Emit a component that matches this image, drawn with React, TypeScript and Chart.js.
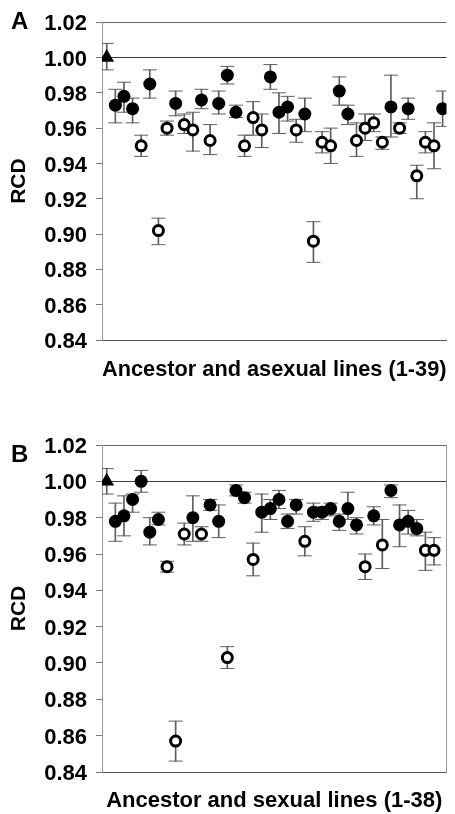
import { useEffect, useRef } from "react";
import { Chart, registerables } from "chart.js";

Chart.register(...registerables);

const FONT = "'Liberation Sans', Arial, Helvetica, sans-serif";

const Y_MIN = 0.84;
const Y_MAX = 1.02;
const Y_STEP = 0.02;
const X_MIN = -0.55;
const X_MAX = 39.45;

// Panel A: ancestor (index 0) and asexual lines 1-39
// kinds: a = ancestor, f = filled circle, o = open circle
const A_KINDS = [
  "a", "f", "f", "f", "o", "f", "o", "o", "f", "o",
  "o", "f", "o", "f", "f", "f", "o", "o", "o", "f",
  "f", "f", "o", "f", "o", "o", "o", "f", "f", "o",
  "o", "o", "o", "f", "o", "f", "o", "o", "o", "f",
];
const A_VALUES = [
  1.0, 0.973, 0.978, 0.971, 0.95, 0.985, 0.902, 0.96, 0.974, 0.962,
  0.959, 0.976, 0.953, 0.974, 0.99, 0.969, 0.95, 0.966, 0.959, 0.989,
  0.969, 0.972, 0.959, 0.968, 0.896, 0.952, 0.95, 0.981, 0.968, 0.953,
  0.96, 0.963, 0.952, 0.972, 0.96, 0.971, 0.933, 0.952, 0.95, 0.971,
];
const A_HIGH = [
  1.008, 0.982, 0.986, 0.977, 0.956, 0.993, 0.909, 0.964, 0.981, 0.968,
  0.969, 0.982, 0.962, 0.981, 0.995, 0.973, 0.956, 0.975, 0.968, 0.996,
  0.98, 0.978, 0.965, 0.977, 0.907, 0.958, 0.96, 0.989, 0.973, 0.963,
  0.968, 0.968, 0.955, 0.99, 0.963, 0.977, 0.939, 0.958, 0.963, 0.981,
];
const A_LOW = [
  0.993, 0.963, 0.969, 0.963, 0.944, 0.977, 0.894, 0.956, 0.967, 0.957,
  0.947, 0.971, 0.945, 0.968, 0.985, 0.966, 0.944, 0.956, 0.949, 0.982,
  0.957, 0.964, 0.952, 0.958, 0.884, 0.946, 0.94, 0.973, 0.962, 0.944,
  0.953, 0.958, 0.948, 0.955, 0.957, 0.965, 0.92, 0.946, 0.937, 0.961,
];

// Panel B: ancestor (index 0) and sexual lines 1-38
const B_KINDS = [
  "a", "f", "f", "f", "f", "f", "f", "o", "o", "o",
  "f", "o", "f", "f", "o", "f", "f", "o", "f", "f",
  "f", "f", "f", "o", "f", "f", "f", "f", "f", "f",
  "o", "f", "o", "f", "f", "f", "f", "o", "o",
];
const B_VALUES = [
  1.0, 0.978, 0.981, 0.99, 1.0, 0.972, 0.979, 0.953, 0.857, 0.971,
  0.98, 0.971, 0.987, 0.978, 0.903, 0.995, 0.991, 0.957, 0.983, 0.985,
  0.99, 0.978, 0.987, 0.967, 0.983, 0.983, 0.985, 0.978, 0.985, 0.976,
  0.953, 0.981, 0.965, 0.995, 0.976, 0.978, 0.974, 0.962, 0.962,
];
const B_HIGH = [
  1.007, 0.988, 0.992, 0.993, 1.006, 0.98, 0.983, 0.956, 0.868, 0.977,
  0.992, 0.975, 0.99, 0.987, 0.909, 0.998, 0.994, 0.966, 0.993, 0.99,
  0.995, 0.982, 0.99, 0.975, 0.988, 0.986, 0.988, 0.982, 0.994, 0.98,
  0.96, 0.986, 0.979, 0.998, 0.987, 0.984, 0.979, 0.972, 0.969,
];
const B_LOW = [
  0.993, 0.967, 0.97, 0.983, 0.994, 0.965, 0.976, 0.95, 0.846, 0.965,
  0.967, 0.967, 0.984, 0.969, 0.897, 0.992, 0.988, 0.948, 0.972, 0.979,
  0.985, 0.974, 0.982, 0.959, 0.978, 0.979, 0.981, 0.973, 0.979, 0.971,
  0.946, 0.976, 0.952, 0.991, 0.964, 0.971, 0.97, 0.951, 0.954,
];

const A_X_TITLE = "Ancestor and asexual lines (1-39)";
const B_X_TITLE = "Ancestor and sexual lines (1-38)";
const Y_TITLE = "RCD";

type PanelProps = {
  kinds: string[];
  values: number[];
  high: number[];
  low: number[];
  xTitle: string;
  top: number;
  padTop: number;
  padRight: number;
  xAxisHeight: number;
  xTitlePad: number;
  rightBorder: boolean;
};

const ERR = "#5f5f5f";

function Panel(p: PanelProps) {
  const ref = useRef<HTMLCanvasElement>(null);
  useEffect(() => {
    const canvas = ref.current;
    if (!canvas) return;
    const pts = (k: string) =>
      p.values
        .map((v, i) => ({ x: i, y: v }))
        .filter((_, i) => p.kinds[i] === k);
    const near = (a: number, b: number) => Math.abs(a - b) < 1e-6;

    const scales: any = {
      x: {
        type: "linear",
        min: X_MIN,
        max: X_MAX,
        offset: false,
        ticks: { display: false },
        grid: { display: true, drawOnChartArea: false, drawTicks: false },
        border: { display: true, color: "#555", width: 1 },
        title: {
          display: true,
          text: p.xTitle,
          color: "#000",
          font: { family: FONT, size: 22, weight: "bold" },
          padding: { top: 0, bottom: p.xTitlePad },
        },
        afterFit: (s: any) => {
          s.height = p.xAxisHeight;
        },
      },
      y: {
        type: "linear",
        min: Y_MIN,
        max: Y_MAX,
        ticks: {
          stepSize: Y_STEP,
          callback: (v: any) => Number(v).toFixed(2),
          color: "#000",
          font: { family: FONT, size: 22, weight: "bold" },
          padding: 9,
          labelOffset: 2,
        },
        grid: {
          drawOnChartArea: true,
          drawTicks: true,
          tickLength: 6,
          tickColor: "#777",
          lineWidth: 1,
          color: (ctx: any) => {
            const v = ctx.tick ? ctx.tick.value : NaN;
            if (near(v, 1.0)) return "#3c3c3c";
            if (near(v, 1.02)) return "#6a6a6a";
            return "rgba(0,0,0,0)";
          },
        },
        border: { display: true, color: "#999", width: 1 },
        title: {
          display: true,
          text: Y_TITLE,
          color: "#000",
          font: { family: FONT, size: 21, weight: "bold" },
          padding: { top: 7, bottom: 0 },
        },
        afterFit: (s: any) => {
          s.width = 102;
        },
      },
    };
    if (p.rightBorder) {
      scales.y2 = {
        type: "linear",
        position: "right",
        display: true,
        ticks: { display: false },
        grid: { drawOnChartArea: false, drawTicks: false },
        border: { display: true, color: "#999", width: 1 },
        afterFit: (s: any) => {
          s.width = 0;
        },
      };
    }

    const chart = new Chart(canvas, {
      type: "scatter",
      data: {
        datasets: [
          {
            type: "bar",
            data: p.values.map((_, i) => ({ x: i, y: [p.low[i], p.high[i]] })),
            backgroundColor: ERR,
            borderWidth: 0,
            barThickness: 1,
            grouped: false,
            order: 5,
          } as any,
          {
            data: p.high.map((h, i) => ({ x: i, y: h })),
            pointStyle: "line",
            pointRadius: 7,
            borderColor: ERR,
            borderWidth: 1,
            order: 4,
          },
          {
            data: p.low.map((l, i) => ({ x: i, y: l })),
            pointStyle: "line",
            pointRadius: 7,
            borderColor: ERR,
            borderWidth: 1,
            order: 4,
          },
          {
            data: pts("f"),
            pointStyle: "circle",
            pointRadius: 6.5,
            backgroundColor: "#000",
            borderWidth: 0,
            order: 2,
          },
          {
            data: pts("o"),
            pointStyle: "circle",
            pointRadius: 5,
            backgroundColor: "#fff",
            borderColor: "#000",
            borderWidth: 3,
            order: 1,
          },
          {
            data: pts("a"),
            pointStyle: "triangle",
            pointRadius: 8.5,
            backgroundColor: "#000",
            borderColor: "#000",
            borderWidth: 0,
            order: 0,
          },
        ],
      },
      options: {
        animation: false,
        responsive: false,
        events: [],
        layout: { padding: { top: p.padTop, right: p.padRight, bottom: 0, left: 0 } },
        plugins: { legend: { display: false }, tooltip: { enabled: false } },
        scales,
      },
    });
    return () => chart.destroy();
  }, []);
  return (
    <canvas
      ref={ref}
      width={455}
      height={407}
      style={{ position: "absolute", left: 0, top: p.top, width: 455, height: 407 }}
    />
  );
}

const letterStyle = (top: number): any => ({
  position: "absolute",
  left: 11,
  top,
  fontFamily: FONT,
  fontWeight: "bold",
  fontSize: 24,
  lineHeight: "24px",
  color: "#000",
});

export default function App() {
  return (
    <div
      style={{
        position: "absolute",
        left: 0,
        top: 0,
        width: 455,
        height: 814,
        background: "#fff",
        overflow: "hidden",
      }}
    >
      <Panel
        kinds={A_KINDS}
        values={A_VALUES}
        high={A_HIGH}
        low={A_LOW}
        xTitle={A_X_TITLE}
        top={0}
        padTop={15}
        padRight={0}
        xAxisHeight={67}
        xTitlePad={24}
        rightBorder={false}
      />
      <Panel
        kinds={B_KINDS}
        values={B_VALUES}
        high={B_HIGH}
        low={B_LOW}
        xTitle={B_X_TITLE}
        top={407}
        padTop={38}
        padRight={2}
        xAxisHeight={42}
        xTitlePad={0}
        rightBorder={true}
      />
      <div style={letterStyle(9)}>A</div>
      <div style={letterStyle(442)}>B</div>
    </div>
  );
}
